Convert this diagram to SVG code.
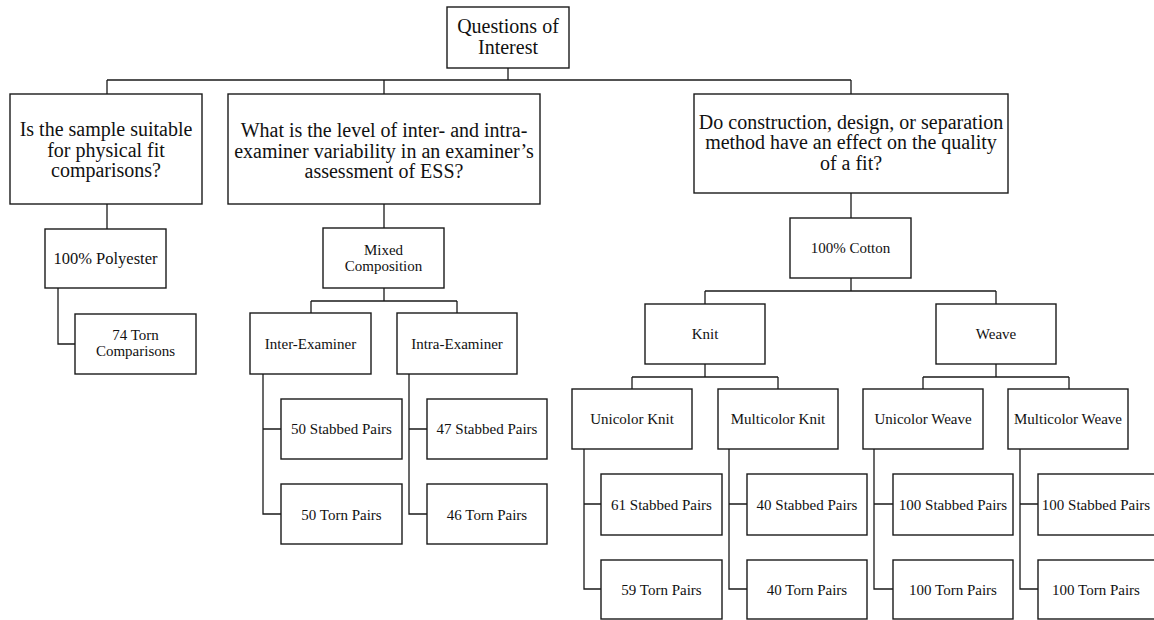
<svg xmlns="http://www.w3.org/2000/svg" width="1154" height="620" viewBox="0 0 1154 620">
<style>
.box{fill:#fff;stroke:#1a1a1a;stroke-width:1.4}
.ln{fill:none;stroke:#1a1a1a;stroke-width:1.3}
text{font-family:"Liberation Serif","Times New Roman",serif;fill:#111;text-anchor:middle}
.q{font-size:20px}
.s{font-size:15px}
.m{font-size:16.5px}
</style>
<rect width="1154" height="620" fill="#fff"/>
<g id="connectors" class="ln">
<path d="M508 68V80M107 80H851M107 80V94M384 80V94M851 80V94"/>
<path d="M107 204V229M58 288V344H75"/>
<path d="M384 204V228M384 288V301M311 301H457M311 301V313M457 301V313"/>
<path d="M263 374V514H281M263 429H281M409 374V514H427M409 429H427"/>
<path d="M851 193V218M851 278V291M705 291H996M705 291V304M996 291V304"/>
<path d="M705 364V377M632 377H778M632 377V389M778 377V389"/>
<path d="M996 364V377M923 377H1069M923 377V389M1069 377V389"/>
<path d="M584 449V589H601M584 504H601M729 449V589H747M729 504H747M874 449V589H893M874 504H893M1020 449V589H1038M1020 504H1038"/>
</g>
<g id="root"><rect class="box" x="447" y="7" width="122" height="61"/><text class="q" x="508" y="33">Questions of</text><text class="q" x="508" y="54">Interest</text></g>
<g id="q1"><rect class="box" x="10" y="94" width="192" height="110"/><text class="q" x="106" y="136">Is the sample suitable</text><text class="q" x="106" y="156.5">for physical fit</text><text class="q" x="106" y="177">comparisons?</text></g>
<g id="q2"><rect class="box" x="228" y="94" width="312" height="110"/><text class="q" x="384" y="137">What is the level of inter- and intra-</text><text class="q" x="384" y="157.5">examiner variability in an examiner’s</text><text class="q" x="384" y="178">assessment of ESS?</text></g>
<g id="q3"><rect class="box" x="694" y="94" width="314" height="99"/><text class="q" x="851" y="128.5">Do construction, design, or separation</text><text class="q" x="851" y="149">method have an effect on the quality</text><text class="q" x="851" y="169.5">of a fit?</text></g>
<g id="polyester"><rect class="box" x="45" y="229" width="121" height="59"/><text class="m" x="105.5" y="264">100% Polyester</text></g>
<g id="torn74"><rect class="box" x="75" y="314" width="121" height="60"/><text class="s" x="135.5" y="340">74 Torn</text><text class="s" x="135.5" y="356">Comparisons</text></g>
<g id="mixed"><rect class="box" x="323" y="228" width="121" height="60"/><text class="s" x="383.5" y="255">Mixed</text><text class="s" x="383.5" y="270.5">Composition</text></g>
<g id="inter"><rect class="box" x="250" y="313" width="121" height="61"/><text class="s" x="310.5" y="348.5">Inter-Examiner</text></g>
<g id="intra"><rect class="box" x="397" y="313" width="120" height="61"/><text class="s" x="457" y="348.5">Intra-Examiner</text></g>
<g id="inter-stab"><rect class="box" x="281" y="399" width="121" height="60"/><text class="s" x="341.5" y="434">50 Stabbed Pairs</text></g>
<g id="inter-torn"><rect class="box" x="281" y="484" width="121" height="60"/><text class="s" x="341.5" y="519.5">50 Torn Pairs</text></g>
<g id="intra-stab"><rect class="box" x="427" y="399" width="120" height="60"/><text class="s" x="487" y="434">47 Stabbed Pairs</text></g>
<g id="intra-torn"><rect class="box" x="427" y="484" width="120" height="60"/><text class="s" x="487" y="519.5">46 Torn Pairs</text></g>
<g id="cotton"><rect class="box" x="790" y="218" width="121" height="60"/><text class="s" x="850.5" y="253">100% Cotton</text></g>
<g id="knit"><rect class="box" x="645" y="304" width="120" height="60"/><text class="s" x="705" y="339">Knit</text></g>
<g id="weave"><rect class="box" x="936" y="304" width="120" height="60"/><text class="s" x="996" y="339">Weave</text></g>
<g id="uni-knit"><rect class="box" x="572" y="389" width="120" height="60"/><text class="s" x="632" y="424">Unicolor Knit</text></g>
<g id="multi-knit"><rect class="box" x="718" y="389" width="120" height="60"/><text class="s" x="778" y="424">Multicolor Knit</text></g>
<g id="uni-weave"><rect class="box" x="863" y="389" width="120" height="60"/><text class="s" x="923" y="424">Unicolor Weave</text></g>
<g id="multi-weave"><rect class="box" x="1008" y="389" width="120" height="60"/><text class="s" x="1068" y="424">Multicolor Weave</text></g>
<g id="uk-stab"><rect class="box" x="601" y="474" width="121" height="61"/><text class="s" x="661.5" y="510">61 Stabbed Pairs</text></g>
<g id="uk-torn"><rect class="box" x="601" y="560" width="121" height="59"/><text class="s" x="661.5" y="595">59 Torn Pairs</text></g>
<g id="mk-stab"><rect class="box" x="747" y="474" width="120" height="61"/><text class="s" x="807" y="510">40 Stabbed Pairs</text></g>
<g id="mk-torn"><rect class="box" x="747" y="560" width="120" height="59"/><text class="s" x="807" y="595">40 Torn Pairs</text></g>
<g id="uw-stab"><rect class="box" x="893" y="474" width="120" height="61"/><text class="s" x="953" y="510">100 Stabbed Pairs</text></g>
<g id="uw-torn"><rect class="box" x="893" y="560" width="120" height="59"/><text class="s" x="953" y="595">100 Torn Pairs</text></g>
<g id="mw-stab"><rect class="box" x="1038" y="474" width="125" height="61"/><text class="s" x="1096" y="510">100 Stabbed Pairs</text></g>
<g id="mw-torn"><rect class="box" x="1038" y="560" width="125" height="59"/><text class="s" x="1096" y="595">100 Torn Pairs</text></g>
</svg>
